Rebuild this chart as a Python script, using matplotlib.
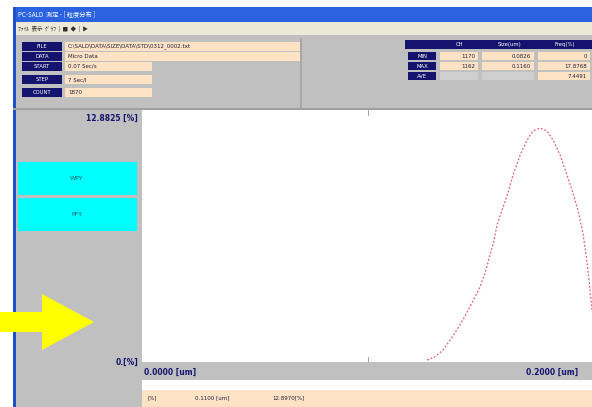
import numpy as np
import matplotlib.pyplot as plt
from matplotlib.patches import Rectangle, FancyArrow

# distribution curve (size in um, frequency in %)
size_um = [0.1261, 0.1296, 0.1332, 0.1376, 0.1420, 0.1460, 0.1496, 0.1522,
           0.1540, 0.1558, 0.1571, 0.1593, 0.1615, 0.1642, 0.1673, 0.1704,
           0.1730, 0.1761, 0.1792, 0.1819, 0.1850, 0.1876, 0.1907, 0.1929,
           0.1951, 0.1965, 0.1978, 0.1991]
freq_pct = [0.00, 0.16, 0.53, 1.28, 2.13, 3.04, 3.89, 4.79,
            5.59, 6.39, 7.19, 7.98, 8.73, 9.85, 10.91, 11.71,
            12.19, 12.35, 12.19, 11.71, 10.91, 10.01, 8.89, 7.98,
            6.76, 5.59, 4.26, 2.66]

y_max_label = "12.8825 [%]"
y_min_label = "0.[%]"
x_min_label = "0.0000 [um]"
x_max_label = "0.2000 [um]"

info_labels = ["FILE", "DATA", "START", "STEP", "COUNT"]
info_values = ["C:\\SALD\\DATA\\SIZE\\DATA\\STD\\0312_0002.txt", "Micro Data",
               "0.07 Sec/s", "7 Sec/l", "1870"]
table_header = ["", "CH", "Size(um)", "Freq(%)"]
table_rows = [["MIN", "1170", "0.0826", "0"],
              ["MAX", "1162", "0.1160", "17.8768"],
              ["AVE", "", "", "7.4491"]]
button_labels = ["WPY", "PFY"]
status_texts = ["[%]", "0.1100 [um]", "12.8970[%]"]

W, H = 592, 407
fig = plt.figure(figsize=(W / 100, H / 100), dpi=100)
bg = fig.add_axes([0, 0, 1, 1])
bg.set_xlim(0, W)
bg.set_ylim(H, 0)
bg.axis('off')

navy = '#14146e'
beige = '#fde2c4'
gray = '#c0c0c0'


def box(x, y, w, h, color, **kw):
    bg.add_patch(Rectangle((x, y), w, h, facecolor=color, edgecolor='none', **kw))


def txt(x, y, s, size=5, color='#202040', ha='left', **kw):
    bg.text(x, y, s, fontsize=size, color=color, ha=ha, va='center', **kw)


# window frame
box(13, 7, W - 13, H - 7, gray)
box(13, 7, W - 13, 15, '#2a62e0')
txt(18, 14.5, "PC-SALD  測定 - [ 粒度分布 ]", size=4.5, color='white',
    family=['Noto Sans CJK JP', 'DejaVu Sans'])
box(13, 22, W - 13, 13, '#ece9d8')
txt(18, 28.5, "ﾌｧｲﾙ  表示  ｸﾞﾗﾌ  |  ■  ◆  |  ▶", size=4, color='#303030',
    family=['Noto Sans CJK JP', 'DejaVu Sans'])
box(13, 7, 3, H - 7, '#2050c8')

# file info rows
row_y = [42, 52, 62, 75, 88]
for i, (lab, val) in enumerate(zip(info_labels, info_values)):
    box(22, row_y[i], 40, 9, navy)
    txt(42, row_y[i] + 4.5, lab, size=3.8, color='white', ha='center')
    w = 235 if i < 2 else 87
    box(65, row_y[i], w, 9, beige)
    txt(68, row_y[i] + 4.5, val, size=4)
box(13, 108, W - 13, 2, '#a0a0a0')
box(300, 38, 2, 70, '#a8a8a8')

# right table
col_x = [405, 440, 482, 538]
col_w = [32, 40, 54, 54]
box(col_x[0], 40, 187, 9, navy)
for j, h in enumerate(table_header):
    txt(col_x[j] + col_w[j] / 2, 44.5, h, size=3.8, color='white', ha='center')
for i, row in enumerate(table_rows):
    y = 52 + i * 10
    box(col_x[0] + 3, y, 28, 8, navy)
    txt(col_x[0] + 17, y + 4, row[0], size=3.8, color='white', ha='center')
    for j in range(1, 4):
        c = beige if (i < 2 or j == 3) else '#cfcfcf'
        box(col_x[j], y, col_w[j] - 2, 8, c)
        txt(col_x[j] + col_w[j] - 5, y + 4, row[j], size=4, ha='right')

# left panel labels and buttons
txt(138, 118, y_max_label, size=5.5, color=navy, ha='right', weight='bold')
txt(138, 362, y_min_label, size=5.5, color=navy, ha='right', weight='bold')
for k, lab in enumerate(button_labels):
    box(18, 162 + k * 36, 119, 33, '#00ffff')
    txt(77, 178 + k * 36, lab, size=4.5, color='#206060', ha='center')

# bottom axis strip and status bar
box(142, 364, W - 142, 16, gray)
txt(144, 372, x_min_label, size=5.5, color=navy, weight='bold')
txt(526, 372, x_max_label, size=5.5, color=navy, weight='bold')
box(142, 380, W - 142, 10, 'white')
box(142, 390, W - 142, 17, beige)
for s, x in zip(status_texts, [148, 195, 272]):
    txt(x, 398, s, size=4)

# yellow arrow
bg.add_patch(FancyArrow(0, 322, 42, 0, width=20, head_width=56, head_length=52,
                        length_includes_head=False, facecolor='#ffff00',
                        edgecolor='none'))

# plot area
x0, x1 = 142, W
ax = fig.add_axes([x0 / W, 1 - 362 / H, (x1 - x0) / W, (362 - 110) / H])
ax.plot(size_um, freq_pct, color='#e06070', lw=0.9, ls=(0, (1.5, 1.5)))
ax.set_xlim(0, 0.2 * (x1 - x0) / 452)
ax.set_ylim(-0.106, 13.308)
ax.set_xticks([])
ax.set_yticks([])
for s in ax.spines.values():
    s.set_visible(False)
ax.axvline(0.1, ymin=0, ymax=0.02, color='#909090', lw=0.6)
ax.axvline(0.1, ymin=0.98, ymax=1, color='#909090', lw=0.6)

fig.savefig('out.png', dpi=100)
